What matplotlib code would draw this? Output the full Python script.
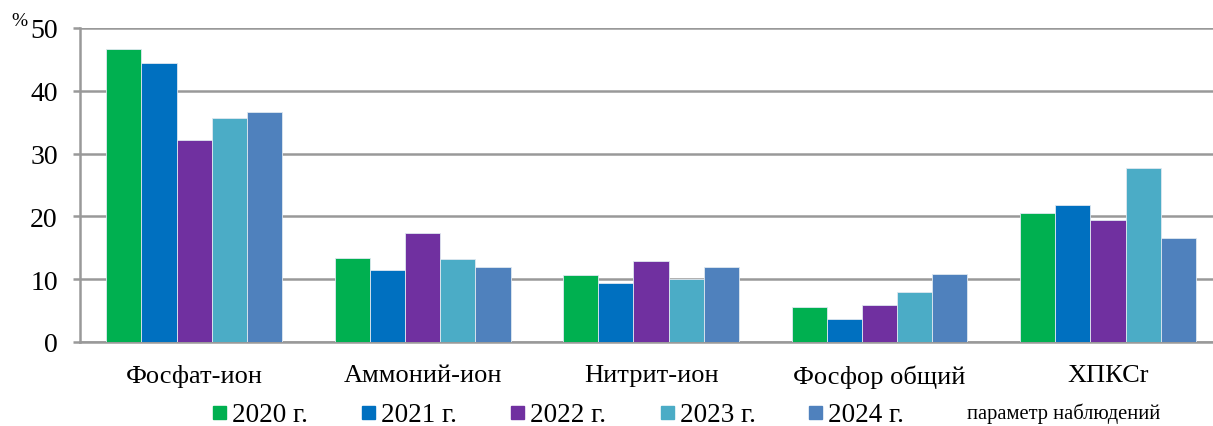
import numpy as np
import matplotlib
matplotlib.use("Agg")
import matplotlib.pyplot as plt
from matplotlib.patches import Rectangle

# ── Data ─────────────────────────────────────────────────────────────
categories = ["Фосфат-ион", "Аммоний-ион", "Нитрит-ион", "Фосфор общий", "ХПКСr"]
years = ["2020 г.", "2021 г.", "2022 г.", "2023 г.", "2024 г."]
v2020 = [46.6, 13.3, 10.6, 5.6, 20.6]
v2021 = [44.5, 11.4, 9.4, 3.7, 21.8]
v2022 = [32.2, 17.3, 12.9, 5.9, 19.5]
v2023 = [35.6, 13.2, 10.0, 8.0, 27.7]
v2024 = [36.7, 11.9, 12.0, 10.9, 16.5]
yticks = [0, 10, 20, 30, 40, 50]

series = [v2020, v2021, v2022, v2023, v2024]
colors = ["#00B050", "#0070C0", "#7030A0", "#4BACC6", "#4F81BD"]
GRID = "#999999"

plt.rcParams["font.family"] = ["Liberation Serif", "DejaVu Serif"]

W, H = 1213, 427
fig = plt.figure(figsize=(W / 100, H / 100), dpi=100)
ax = fig.add_axes([80 / W, 1 - 343 / H, 1133 / W, 314 / H])

x = np.arange(len(categories))
bw = 0.154
for i, (vals, c) in enumerate(zip(series, colors)):
    ax.bar(x + (i - 2) * bw, vals, width=bw, color=c,
           edgecolor="#dfe8f0", linewidth=0.6, zorder=3)

ax.set_xlim(-0.5, 4.46)
ax.set_ylim(0, 50)
ax.set_yticks(yticks)
ax.set_yticklabels([str(t) for t in yticks], fontsize=20)
ax.yaxis.grid(True, color=GRID, linewidth=1.8, zorder=0)
ax.set_axisbelow(True)
ax.set_xticks(x)
ax.set_xticklabels(categories, fontsize=19)
ax.tick_params(axis="x", length=0, pad=16)
ax.tick_params(axis="y", length=5, width=1.8, color=GRID, pad=11)
for s in ["top", "right"]:
    ax.spines[s].set_visible(False)
for s in ["left", "bottom"]:
    ax.spines[s].set_color(GRID)
    ax.spines[s].set_linewidth(1.8)

fig.text(11 / W, 1 - 22 / H, "%", fontsize=14, va="center", ha="left")

# legend row drawn in figure pixels
sq_x = [213, 362, 511, 661, 809]
for sx, c, lab in zip(sq_x, colors, years):
    fig.patches.append(Rectangle((sx / W, 1 - 420 / H), 13 / W, 13 / H,
                                 transform=fig.transFigure, color=c))
    fig.text((sx + 19) / W, 1 - 416 / H, lab, fontsize=19.5,
             va="center", ha="left")
fig.text(967 / W, 1 - 414 / H, "параметр наблюдений", fontsize=14.8,
         va="center", ha="left")

fig.savefig("out.png", dpi=100)
